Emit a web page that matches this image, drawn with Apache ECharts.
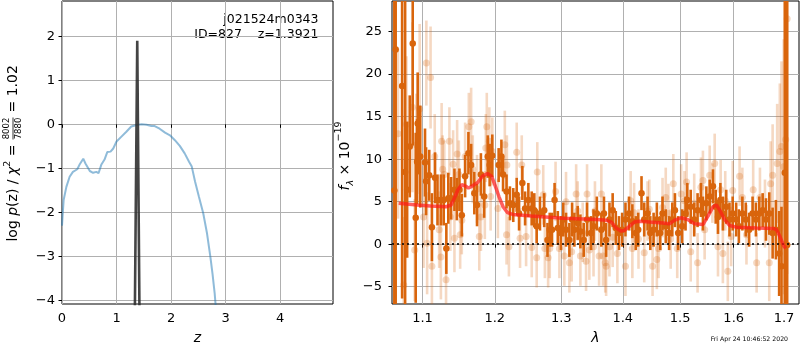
<!DOCTYPE html>
<html>
<head>
<meta charset="utf-8">
<script src="https://cdn.jsdelivr.net/npm/echarts@6/dist/echarts.min.js"></script>
<style>
html,body{margin:0;padding:0;background:#fff;}
#chart{width:800px;height:350px;}
</style>
</head>
<body>
<div id="chart"></div>
<script>
// ---- Left panel: log p(z) ----
const zTicks = [0, 1, 2, 3, 4];
const logpTicks = [-4, -3, -2, -1, 0, 1, 2];
const bluePz = [[0.0,-2.3],[0.01,-2.1],[0.03,-1.72],[0.08,-1.42],[0.14,-1.19],[0.2,-1.08],[0.28,-1.02],[0.32,-0.92],[0.39,-0.78],[0.43,-0.89],[0.51,-1.06],[0.57,-1.10],[0.63,-1.08],[0.67,-1.11],[0.72,-0.92],[0.78,-0.80],[0.83,-0.63],[0.89,-0.62],[0.94,-0.55],[1.0,-0.39],[1.09,-0.28],[1.18,-0.17],[1.27,-0.05],[1.37,-0.015],[1.46,0.0],[1.55,-0.01],[1.64,-0.04],[1.70,-0.04],[1.79,-0.10],[1.89,-0.19],[1.98,-0.25],[2.07,-0.36],[2.16,-0.49],[2.25,-0.66],[2.33,-0.85],[2.38,-0.96],[2.44,-1.30],[2.51,-1.64],[2.59,-2.02],[2.66,-2.48],[2.72,-3.0],[2.76,-3.39],[2.80,-3.84],[2.83,-4.3]];
const spikePz = [[1.336,-4.3],[1.380,1.9],[1.394,1.9],[1.421,-4.3]];

// ---- Right panel: spectrum ----
const lamTicks = [1.1, 1.2, 1.3, 1.4, 1.5, 1.6, 1.7];
const fluxTicks = [-5, 0, 5, 10, 15, 20, 25];
// [wavelength, flux, error]
const darkSpec = [[1.0633,6.3,40],[1.0650,22.9,30],[1.0733,18.6,25],[1.0772,8.5,30],[1.0798,6.4,8],[1.0832,11.5,6],[1.0871,23.6,12],[1.0910,3.1,10],[1.0928,9.7,5],[1.0936,14.2,6],[1.0970,10.3,6],[1.1033,9.6,4],[1.1047,7.4,4],[1.1089,8.1,3],[1.1125,2.0,4],[1.1167,7.8,3],[1.1200,5.2,3],[1.1246,5.2,3],[1.1284,5.2,3],[1.1320,-0.5,3],[1.1347,5.4,3],[1.1385,5.4,2.5],[1.1431,6.4,2.5],[1.1464,5.3,2.5],[1.1500,6.4,2.5],[1.1533,3.4,2.5],[1.1579,8.0,2.5],[1.1625,10.7,2.5],[1.1663,9.3,2.5],[1.1708,6.0,2.5],[1.1746,4.6,2.5],[1.1801,8.2,2.5],[1.1847,5.6,2.5],[1.1899,10.3,2.5],[1.1926,9.3,2.5],[1.1964,10.4,2.5],[1.2056,9.3,2],[1.2096,10.3,2],[1.2120,8.2,2],[1.2171,6.2,2],[1.2221,4.8,2],[1.2270,4.6,2],[1.2321,5.8,2],[1.2356,3.6,2],[1.2405,7.2,2],[1.2446,4.2,2],[1.2495,5.2,2],[1.2546,4.2,2],[1.2585,4.0,2],[1.2621,2.1,2],[1.2671,3.6,2],[1.2736,4.0,2],[1.2786,0.5,2],[1.2821,1.7,2],[1.2856,1.7,2],[1.2896,5.2,2],[1.2946,1.9,2],[1.2996,1.3,2],[1.3032,2.9,2],[1.3075,1.7,2],[1.3128,0.5,2],[1.3171,2.9,2],[1.3207,1.7,2],[1.3260,2.5,2],[1.3303,1.5,2],[1.3356,0.5,2],[1.3410,2.9,2],[1.3474,1.3,2],[1.3515,2.1,2],[1.3569,3.6,2],[1.3643,1.7,2],[1.3686,3.6,2],[1.3722,0.5,2],[1.3777,2.9,2],[1.3830,4.0,2],[1.3882,1.9,2],[1.3936,1.3,2],[1.3989,1.7,2],[1.4045,2.9,2],[1.4105,3.6,2],[1.4162,2.7,2],[1.4220,1.3,2],[1.4262,1.7,2],[1.4319,6.0,2],[1.4366,2.9,2],[1.4424,3.6,2],[1.4471,1.3,2],[1.4529,1.7,2],[1.4586,2.9,2],[1.4646,1.3,2],[1.4686,3.6,2],[1.4743,2.1,2],[1.4803,1.3,2],[1.4860,2.9,2],[1.4907,4.0,2],[1.4965,1.3,2],[1.5038,2.1,2],[1.5099,3.6,2],[1.5131,5.2,2],[1.5193,4.4,2],[1.5257,2.9,2],[1.5319,4.0,2],[1.5381,5.2,2],[1.5418,3.6,2],[1.5482,4.8,2],[1.5544,5.6,2],[1.5606,6.8,2],[1.5657,4.4,2],[1.5700,3.2,2],[1.5745,5.2,2],[1.5793,3.6,2],[1.5857,4.4,2],[1.5919,2.9,2],[1.5981,3.6,2],[1.6048,2.9,2],[1.6100,2.1,2],[1.6168,3.6,2],[1.6234,2.9,2],[1.6300,1.7,2],[1.6368,3.6,2],[1.6434,2.9,2],[1.6500,3.6,2],[1.6568,4.0,2],[1.6634,2.9,2.5],[1.6700,3.6,2.5],[1.6768,1.3,3],[1.6834,1.7,3.5],[1.6900,-1.1,5],[1.6948,-2.6,7],[1.7015,8.4,30],[1.7064,-0.1,40]];
const lightSpec = [[1.0680,13.0,10],[1.0754,-4.8,8],[1.0789,14.1,8],[1.0867,16.1,10],[1.0897,-0.7,6],[1.0919,11.7,6],[1.0962,15.9,10],[1.1014,3.2,6],[1.1051,21.3,5],[1.1061,0.1,6],[1.1107,19.6,6],[1.1125,-2.6,5],[1.1163,10.3,5],[1.1223,1.7,4.5],[1.1246,-1.5,5],[1.1256,12.1,4.5],[1.1270,8.8,4],[1.1292,8.2,4],[1.1316,-4.2,4.5],[1.1362,12.1,4],[1.1375,3.2,4],[1.1413,9.4,4],[1.1431,0.7,4],[1.1468,10.6,4],[1.1492,8.2,4],[1.1510,1.1,4],[1.1533,2.8,4],[1.1579,10.3,4],[1.1631,13.8,4],[1.1663,14.4,4],[1.1686,8.8,4],[1.1746,6.5,4],[1.1778,0.9,4],[1.1801,3.2,4],[1.1857,4.6,4],[1.1871,11.3,4],[1.1885,13.8,4],[1.1922,12.1,4],[1.1940,5.6,4],[1.1964,10.9,4],[1.2045,4.2,3.5],[1.2146,11.7,4],[1.2171,1.1,3.5],[1.2176,9.3,3.5],[1.2206,-0.3,3.5],[1.2321,10.8,3.5],[1.2371,0.7,3.5],[1.2396,9.3,3.5],[1.2461,0.9,3.5],[1.2546,-0.4,3.5],[1.2621,-1.6,3.5],[1.2630,8.5,3.5],[1.2721,5.8,3.5],[1.2746,-0.5,3.5],[1.2796,-1.6,3.5],[1.2821,-0.5,3.5],[1.2911,6.2,3.5],[1.2971,-0.5,3.5],[1.3048,-1.4,3.5],[1.3075,5.0,3.5],[1.3128,-2.2,3.5],[1.3164,-0.9,3.5],[1.3235,5.9,3.5],[1.3260,3.9,3.5],[1.3303,-1.4,3.5],[1.3340,1.4,3.5],[1.3394,-2.0,3.5],[1.3410,5.9,3.5],[1.3447,-0.7,3.5],[1.3515,-0.3,3.5],[1.3538,3.9,3.5],[1.3606,-1.4,3.5],[1.3643,5.9,3.5],[1.3670,-1.4,3.5],[1.3707,-2.2,3.5],[1.3722,-2.6,3.5],[1.3777,-0.3,3.5],[1.3830,0.8,3.5],[1.3909,-1.1,3.5],[1.4045,-2.6,3.5],[1.4133,5.1,3.5],[1.4162,-0.5,3.5],[1.4192,3.7,3.5],[1.4267,0.6,3.5],[1.4366,-1.0,3.5],[1.4424,3.9,3.5],[1.4454,4.1,3.5],[1.4511,-2.6,3.5],[1.4586,-1.8,3.5],[1.4616,-0.5,3.5],[1.4686,4.3,3.5],[1.4743,5.5,3.5],[1.4790,3.6,3.5],[1.4831,0.6,3.5],[1.4878,7.1,3.5],[1.4948,-0.5,3.5],[1.5019,5.9,3.5],[1.5080,5.1,3.5],[1.5118,7.3,3.5],[1.5193,-0.9,3.5],[1.5257,4.8,3.5],[1.5319,-2.2,3.5],[1.5381,6.7,3.5],[1.5418,7.5,3.5],[1.5450,1.7,3.5],[1.5544,8.1,3.5],[1.5595,6.0,3.5],[1.5638,9.5,3.5],[1.5700,-0.3,3.5],[1.5751,6.4,3.5],[1.5793,-1.1,3.5],[1.5838,5.1,3.5],[1.5887,-3.2,3.5],[1.5951,0.9,3.5],[1.5981,6.3,3.5],[1.6114,8.0,3.5],[1.6168,5.5,3.5],[1.6248,1.1,3.5],[1.6380,6.4,3.5],[1.6448,-2.2,3.5],[1.6514,5.5,3.5],[1.6614,3.6,4],[1.6700,-2.2,4.5],[1.6728,7.1,5],[1.6768,8.1,6],[1.6860,9.5,7],[1.6914,10.9,8],[1.6948,11.5,10],[1.6994,9.1,15],[1.7034,12.3,20],[1.7064,26.5,30]];
const modelSpec = [[1.0689,4.8],[1.0928,4.6],[1.1107,4.5],[1.1316,4.4],[1.1385,4.6],[1.1441,5.6],[1.1478,6.4],[1.1533,7.0],[1.1593,6.8],[1.1625,6.6],[1.1672,6.8],[1.1755,7.25],[1.1825,8.0],[1.1894,8.3],[1.1954,8.0],[1.2000,7.0],[1.2060,5.6],[1.2120,4.4],[1.2186,3.7],[1.2261,3.5],[1.2535,3.3],[1.3037,3.06],[1.3569,2.9],[1.3729,2.8],[1.3809,2.6],[1.3888,1.9],[1.3968,1.55],[1.4023,1.6],[1.4110,2.1],[1.4197,2.6],[1.4284,2.7],[1.4459,2.6],[1.4691,2.5],[1.4808,2.4],[1.4895,2.8],[1.5013,3.1],[1.5137,2.9],[1.5263,2.4],[1.5418,2.3],[1.5512,3.3],[1.5606,4.4],[1.5670,4.6],[1.5732,4.0],[1.5826,2.9],[1.5919,2.2],[1.6048,2.0],[1.6448,1.9],[1.6780,1.85],[1.6848,1.7],[1.6914,0.9],[1.6994,-0.2],[1.7034,-0.5]];

const ORANGE = '#d9650c';
const FONT = 'DejaVu Sans';
const fmtMinus = v => String(v).replace('-', '\u2212');

function errRender(color, opacity) {
  return function (params, api) {
    const x = api.value(0), y = api.value(1), e = api.value(2);
    const p1 = api.coord([x, y - e]);
    const p2 = api.coord([x, y + e]);
    return {
      type: 'line',
      shape: { x1: p1[0], y1: p1[1], x2: p2[0], y2: p2[1] },
      style: { stroke: color, lineWidth: 2.6, opacity: opacity }
    };
  };
}

function baseAxis(extra) {
  return Object.assign({
    axisLine: { show: false },
    axisTick: { show: true, inside: false, length: 3.5, lineStyle: { color: '#000', width: 1 } },
    axisLabel: { color: '#000', fontFamily: FONT, fontSize: 13 },
    splitLine: { show: true, lineStyle: { color: '#b0b0b0', width: 1 } }
  }, extra);
}

const chart = echarts.init(document.getElementById('chart'), null, { renderer: 'canvas' });
const option = {
  animation: false,
  backgroundColor: '#fff',
  grid: [
    { left: 62, top: 1, width: 271, height: 303, show: true, borderColor: '#000', borderWidth: 1, backgroundColor: 'transparent' },
    { left: 392, top: 1, width: 407, height: 303, show: true, borderColor: '#000', borderWidth: 1, backgroundColor: 'transparent' }
  ],
  xAxis: [
    baseAxis({
      type: 'value', gridIndex: 0, min: 0, max: 4.97,
      axisTick: { show: true, length: 3.5, customValues: zTicks, lineStyle: { color: '#000' } },
      axisLabel: { color: '#000', fontFamily: FONT, fontSize: 13, margin: 8, customValues: zTicks, formatter: v => fmtMinus(v) },
      name: 'z', nameLocation: 'middle', nameGap: 27,
      nameTextStyle: { fontFamily: FONT, fontSize: 14, fontStyle: 'italic', color: '#000' }
    }),
    baseAxis({
      type: 'log', gridIndex: 1, min: 1.0603, max: 1.7309, logBase: 10,
      axisTick: { show: true, length: 3.5, customValues: lamTicks, lineStyle: { color: '#000' } },
      axisLabel: { color: '#000', fontFamily: FONT, fontSize: 13, margin: 8, customValues: lamTicks, formatter: v => Number(v).toFixed(1) },
      name: '\u03bb', nameLocation: 'middle', nameGap: 27,
      nameTextStyle: { fontFamily: FONT, fontSize: 14, fontStyle: 'italic', color: '#000' }
    })
  ],
  yAxis: [
    baseAxis({
      type: 'value', gridIndex: 0, min: -4.08, max: 2.80,
      axisTick: { show: true, length: 3.5, customValues: logpTicks, lineStyle: { color: '#000' } },
      axisLabel: { color: '#000', fontFamily: FONT, fontSize: 13, margin: 7, customValues: logpTicks, formatter: v => fmtMinus(v) }
    }),
    baseAxis({
      type: 'value', gridIndex: 1, min: -7.04, max: 28.6,
      axisTick: { show: true, length: 3.5, customValues: fluxTicks, lineStyle: { color: '#000' } },
      axisLabel: { color: '#000', fontFamily: FONT, fontSize: 13, margin: 10, customValues: fluxTicks, formatter: v => fmtMinus(v) }
    })
  ],
  series: [
    { type: 'line', xAxisIndex: 0, yAxisIndex: 0, data: bluePz, showSymbol: false, symbol: 'none', clip: true,
      lineStyle: { color: '#1f77b4', width: 2, opacity: 0.5 }, z: 2 },
    { type: 'line', xAxisIndex: 0, yAxisIndex: 0, data: spikePz, showSymbol: false, symbol: 'none', clip: true,
      lineStyle: { color: '#303030', width: 2.6, opacity: 0.9 }, z: 3 },
    { type: 'custom', xAxisIndex: 1, yAxisIndex: 1, data: lightSpec, clip: true, encode: { x: 0, y: 1 },
      renderItem: errRender(ORANGE, 0.25), z: 1 },
    { type: 'scatter', xAxisIndex: 1, yAxisIndex: 1, data: lightSpec.map(d => [d[0], d[1]]), symbolSize: 7, clip: true,
      itemStyle: { color: ORANGE, opacity: 0.25 }, z: 2 },
    { type: 'custom', xAxisIndex: 1, yAxisIndex: 1, data: darkSpec, clip: true, encode: { x: 0, y: 1 },
      renderItem: errRender(ORANGE, 1), z: 3 },
    { type: 'scatter', xAxisIndex: 1, yAxisIndex: 1, data: darkSpec.map(d => [d[0], d[1]]), symbolSize: 6.5, clip: true,
      itemStyle: { color: ORANGE, opacity: 1 }, z: 4 },
    { type: 'line', xAxisIndex: 1, yAxisIndex: 1, data: modelSpec, showSymbol: false, symbol: 'none', clip: true,
      lineStyle: { color: '#ff1a1a', width: 3.5, opacity: 0.7 }, z: 5,
      markLine: { silent: true, symbol: ['none', 'none'], label: { show: false },
        lineStyle: { color: '#000', width: 1.6, type: [2, 3], opacity: 1 },
        data: [{ yAxis: 0 }] } }
  ],
  graphic: [
    { type: 'group', x: 13, y: 152.5, rotation: Math.PI / 2, children: [
      { type: 'text', x: 8, y: 0, style: { text: 'log {i|p}(z) / {i|\u03c7}{s|2} =', fill: '#000', fontFamily: FONT, fontSize: 14,
          align: 'right', verticalAlign: 'middle',
          rich: { i: { fontStyle: 'italic', fontFamily: FONT, fontSize: 14, lineHeight: 20 }, s: { fontSize: 9.5, fontFamily: FONT, verticalAlign: 'top', lineHeight: 20 } } } },
      { type: 'text', x: 24, y: -1.5, style: { text: '8002', fill: '#000', fontFamily: FONT, fontSize: 8.5, align: 'center', verticalAlign: 'bottom' } },
      { type: 'line', shape: { x1: 13, y1: 0, x2: 35, y2: 0 }, style: { stroke: '#000', lineWidth: 0.8 } },
      { type: 'text', x: 24, y: 1.5, style: { text: '7880', fill: '#000', fontFamily: FONT, fontSize: 8.5, align: 'center', verticalAlign: 'top' } },
      { type: 'text', x: 40, y: 0, style: { text: '= 1.02', fill: '#000', fontFamily: FONT, fontSize: 14, align: 'left', verticalAlign: 'middle' } }
    ] },
    { type: 'group', x: 345, y: 156, rotation: Math.PI / 2, children: [
      { type: 'text', x: 0, y: 0, style: { text: '{i|f}{sub|\u03bb} \u00d7 10{sup|\u221219}', fill: '#000', fontFamily: FONT, fontSize: 14,
          align: 'center', verticalAlign: 'middle',
          rich: { i: { fontStyle: 'italic', fontFamily: FONT, fontSize: 14, lineHeight: 22 },
                  sub: { fontStyle: 'italic', fontFamily: FONT, fontSize: 9.5, verticalAlign: 'bottom', lineHeight: 22 },
                  sup: { fontFamily: FONT, fontSize: 9.5, verticalAlign: 'top', lineHeight: 22 } } } }
    ] },
    { type: 'text', x: 318.5, y: 20, style: { text: 'j021524m0343', fill: '#000', fontFamily: FONT, fontSize: 12.5, align: 'right', verticalAlign: 'middle' } },
    { type: 'text', x: 318.5, y: 34.5, style: { text: 'ID=827    z=1.3921', fill: '#000', fontFamily: FONT, fontSize: 12.5, align: 'right', verticalAlign: 'middle' } },
    { type: 'text', x: 788, y: 339.5, style: { text: 'Fri Apr 24 10:46:52 2020', fill: '#000', fontFamily: FONT, fontSize: 6.2, align: 'right', verticalAlign: 'middle' } }
  ]
};
chart.setOption(option);
</script>
</body>
</html>
